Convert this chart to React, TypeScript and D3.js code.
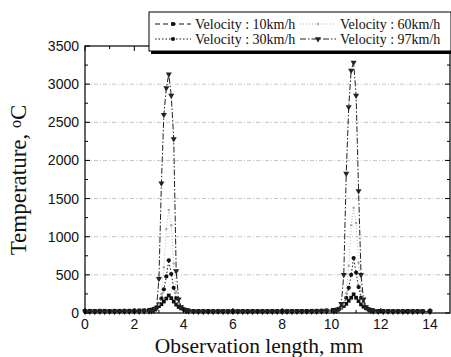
import React from 'react';
import * as d3 from 'd3';

// ---- data ----
const xStart = [0, 0.2, 0.4, 0.6, 0.8, 1, 1.2, 1.4, 1.6, 1.8, 2, 2.2, 2.4];
const xPeak1 = [2.6, 2.7, 2.8, 2.9, 3, 3.1, 3.2, 3.3, 3.4, 3.5, 3.6, 3.7, 3.8, 3.9, 4, 4.1, 4.2];
const xMid = [4.4, 4.6, 4.8, 5, 5.2, 5.4, 5.6, 5.8, 6, 6.2, 6.4, 6.6, 6.8, 7, 7.2, 7.4, 7.6, 7.8, 8, 8.2, 8.4, 8.6, 8.8, 9, 9.2, 9.4, 9.6, 9.8];
const xPeak2 = [10.1, 10.2, 10.3, 10.4, 10.5, 10.6, 10.7, 10.8, 10.9, 11, 11.1, 11.2, 11.3, 11.4, 11.5, 11.6, 11.7];
const xEnd = [11.9, 12.1, 12.3, 12.5, 12.7, 12.9, 13.1, 13.3, 13.5, 13.7, 14.0];

const v10Start = [28, 29, 28, 30, 29, 28, 30, 29, 31, 30, 32, 34, 36];
const v10Peak1 = [40, 45, 55, 70, 90, 115, 150, 190, 230, 195, 150, 110, 80, 60, 48, 40, 35];
const v10Mid = [28, 27, 26, 27, 26, 27, 26, 26, 27, 26, 27, 26, 27, 26, 27, 26, 27, 26, 27, 26, 27, 27, 28, 28, 29, 30, 32, 35];
const v10Peak2 = [40, 45, 55, 70, 92, 120, 160, 200, 245, 200, 155, 112, 82, 62, 48, 40, 35];
const v10End = [28, 27, 27, 26, 27, 26, 27, 26, 27, 26, 26];

const v30Start = [22, 23, 22, 24, 23, 22, 23, 24, 23, 24, 25, 26, 28];
const v30Peak1 = [32, 38, 50, 75, 115, 190, 310, 480, 690, 510, 330, 195, 115, 72, 48, 36, 30];
const v30Mid = [24, 23, 23, 22, 23, 22, 23, 22, 23, 22, 23, 22, 23, 22, 23, 22, 23, 22, 23, 22, 23, 22, 23, 24, 24, 25, 26, 28];
const v30Peak2 = [32, 38, 52, 78, 120, 200, 330, 500, 720, 530, 340, 200, 118, 74, 50, 37, 30];
const v30End = [24, 23, 22, 23, 22, 23, 22, 23, 22, 23, 22];

const v60Start = [20, 21, 20, 21, 20, 21, 20, 21, 21, 22, 22, 23, 24];
const v60Peak1 = [27, 32, 42, 62, 110, 250, 600, 1100, 1350, 1150, 650, 280, 120, 65, 40, 30, 25];
const v60Mid = [21, 20, 20, 21, 20, 21, 20, 21, 20, 21, 20, 21, 20, 21, 20, 21, 20, 21, 20, 21, 20, 21, 21, 22, 22, 23, 24, 25];
const v60Peak2 = [27, 32, 44, 64, 115, 260, 620, 1150, 1380, 1180, 660, 290, 122, 66, 41, 30, 25];
const v60End = [21, 20, 21, 20, 21, 20, 21, 20, 21, 20, 20];

const v97Start = [18, 19, 18, 19, 18, 19, 18, 19, 19, 20, 20, 21, 22];
const v97Peak1 = [24, 27, 33, 60, 450, 1700, 2600, 2950, 3130, 2850, 2280, 550, 180, 80, 45, 30, 24];
const v97Mid = [19, 18, 18, 19, 18, 19, 18, 19, 18, 19, 18, 19, 18, 19, 18, 19, 18, 19, 18, 19, 18, 19, 19, 20, 20, 21, 22, 23];
const v97Peak2 = [24, 30, 50, 120, 500, 1830, 2700, 3180, 3285, 2850, 1600, 500, 180, 80, 45, 30, 24];
const v97End = [19, 18, 19, 18, 19, 18, 19, 18, 19, 18, 18];

const seriesNames = ['Velocity : 10km/h', 'Velocity : 30km/h', 'Velocity : 60km/h', 'Velocity : 97km/h'];
const xTicks = [0, 2, 4, 6, 8, 10, 12, 14];
const yTicks = [0, 500, 1000, 1500, 2000, 2500, 3000, 3500];

const X = [...xStart, ...xPeak1, ...xMid, ...xPeak2, ...xEnd];
const seriesValues = [
  [...v10Start, ...v10Peak1, ...v10Mid, ...v10Peak2, ...v10End],
  [...v30Start, ...v30Peak1, ...v30Mid, ...v30Peak2, ...v30End],
  [...v60Start, ...v60Peak1, ...v60Mid, ...v60Peak2, ...v60End],
  [...v97Start, ...v97Peak1, ...v97Mid, ...v97Peak2, ...v97End],
];

// ---- layout ----
const W = 451, H = 357;
const L = 85, R = 450, T = 46, B = 313;

const styles = [
  { color: '#111', dash: '5,3', symbol: d3.symbolSquare, size: 14, rotate: 0, width: 1 },
  { color: '#111', dash: '1.5,2', symbol: d3.symbolCircle, size: 14, rotate: 0, width: 1 },
  { color: '#aaa', dash: '1,2', symbol: d3.symbolCircle, size: 5, rotate: 0, width: 0.8 },
  { color: '#222', dash: '6,2,1.5,2', symbol: d3.symbolTriangle, size: 16, rotate: 180, width: 1 },
];

export default function App() {
  const x = d3.scaleLinear().domain([0, 14.81]).range([L, R]);
  const y = d3.scaleLinear().domain([0, 3500]).range([B, T]);
  const line = d3.line<number>().x((_, i) => x(X[i])).y((d) => y(d));

  const xMinor = d3.range(0, 15, 1);
  const yMinor = d3.range(0, 3501, 250);
  const serif = '"Liberation Serif", "Times New Roman", serif';
  const sans = '"Liberation Sans", Arial, sans-serif';

  const legendItems = [
    { i: 0, x0: 155, y0: 24 },
    { i: 1, x0: 155, y0: 39 },
    { i: 2, x0: 300, y0: 24 },
    { i: 3, x0: 300, y0: 39 },
  ];

  return (
    <svg width={W} height={H} style={{ position: 'absolute', left: 0, top: 0, background: '#fff' }}>
      {/* grid */}
      {yTicks.filter((t) => t > 0 && t < 3500).map((t) => (
        <line key={'g' + t} x1={L} x2={R} y1={y(t)} y2={y(t)} stroke="#c4c4c4" strokeWidth={1} strokeDasharray="4,2,1,2" />
      ))}

      {/* series */}
      {seriesValues.map((vals, si) => {
        const s = styles[si];
        const sym = d3.symbol().type(s.symbol).size(s.size)();
        return (
          <g key={'s' + si}>
            <path d={line(vals) || ''} fill="none" stroke={s.color} strokeWidth={s.width} strokeDasharray={s.dash} />
            {vals.map((v, i) => (
              <path key={i} d={sym || ''} fill={s.color}
                transform={`translate(${x(X[i])},${y(v)}) rotate(${s.rotate})`} />
            ))}
          </g>
        );
      })}

      {/* frame */}
      <rect x={L} y={T} width={R - L} height={B - T} fill="none" stroke="#000" strokeWidth={1.2} />

      {/* ticks */}
      {xMinor.map((t) => {
        const len = t % 2 === 0 ? 5 : 3;
        return (
          <g key={'xt' + t}>
            <line x1={x(t)} x2={x(t)} y1={B} y2={B - len} stroke="#000" />
            <line x1={x(t)} x2={x(t)} y1={T} y2={T + len} stroke="#000" />
          </g>
        );
      })}
      {yMinor.map((t) => {
        const len = t % 500 === 0 ? 5 : 3;
        return (
          <g key={'yt' + t}>
            <line x1={L} x2={L + len} y1={y(t)} y2={y(t)} stroke="#000" />
            <line x1={R} x2={R - len} y1={y(t)} y2={y(t)} stroke="#000" />
          </g>
        );
      })}

      {/* tick labels */}
      {xTicks.map((t) => (
        <text key={'xl' + t} x={x(t)} y={329} textAnchor="middle" fontFamily={sans} fontSize={14} fill="#111">{t}</text>
      ))}
      {yTicks.map((t) => (
        <text key={'yl' + t} x={79} y={y(t) + 5} textAnchor="end" fontFamily={sans} fontSize={14} fill="#111">{t}</text>
      ))}

      {/* axis titles */}
      <text x={259} y={352.5} textAnchor="middle" fontFamily={serif} fontSize={21.5} fill="#111">Observation length, mm</text>
      <text transform="translate(26,180) rotate(-90)" textAnchor="middle" fontFamily={serif} fontSize={23} fill="#111">
        Temperature, <tspan dy={-5} fontSize={16}>o</tspan><tspan dy={5}>C</tspan>
      </text>

      {/* legend */}
      <rect x={151} y={15} width={302} height={39} fill="#000" />
      <rect x={149} y={12} width={302} height={39} fill="#fff" stroke="#000" strokeWidth={1} />
      {legendItems.map(({ i, x0, y0 }) => {
        const s = styles[i];
        const sym = d3.symbol().type(s.symbol).size(s.size)();
        return (
          <g key={'lg' + i}>
            <line x1={x0} x2={x0 + 36} y1={y0} y2={y0} stroke={s.color} strokeWidth={s.width} strokeDasharray={s.dash} />
            <path d={sym || ''} fill={s.color} transform={`translate(${x0 + 18},${y0}) rotate(${s.rotate})`} />
            <text x={x0 + 40} y={y0 + 5} fontFamily={serif} fontSize={14} fill="#111">{seriesNames[i]}</text>
          </g>
        );
      })}
    </svg>
  );
}
